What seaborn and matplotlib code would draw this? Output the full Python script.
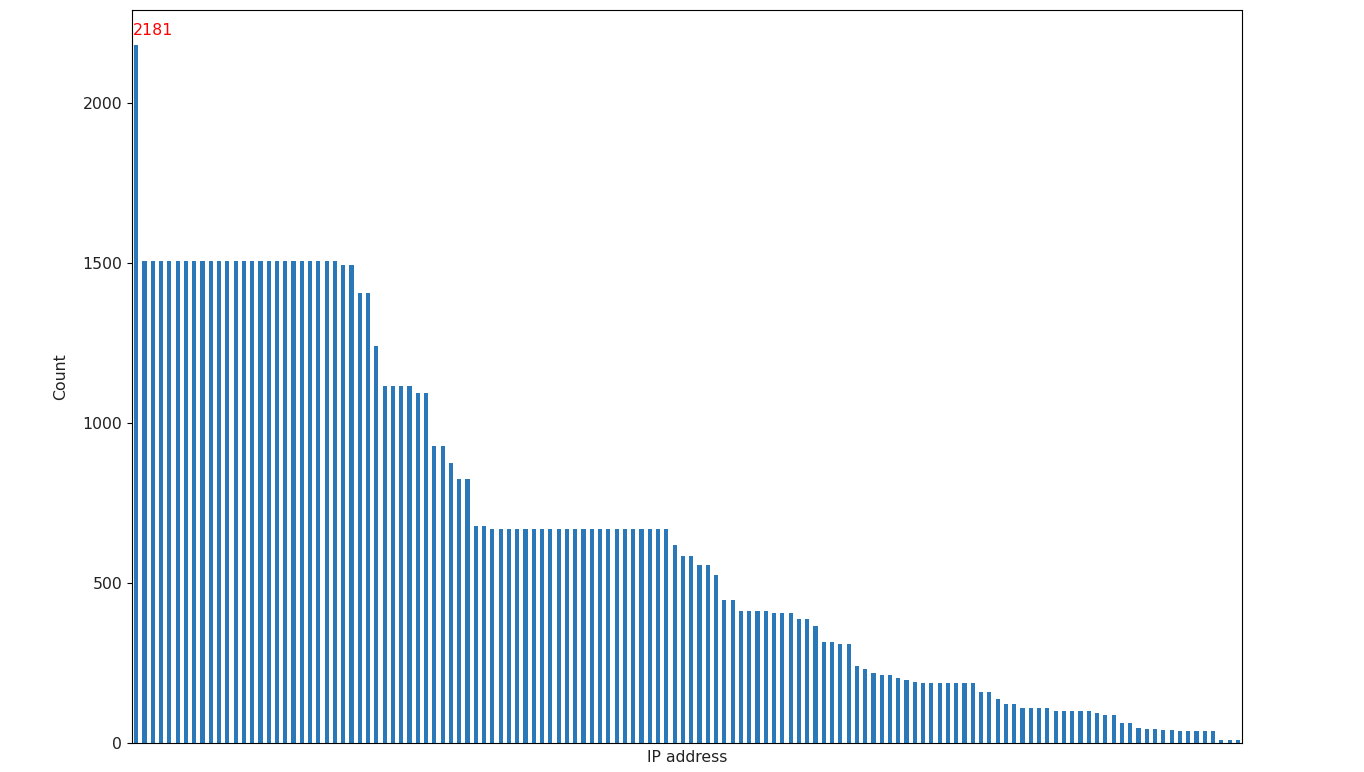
import matplotlib
matplotlib.use("Agg")
import matplotlib.pyplot as plt
import seaborn as sns

# request count per IP address, sorted descending
counts = [2181] + [1505] * 24 + [1493, 1493, 1405, 1405, 1241] + [1115] * 4 + \
    [1092, 1092, 928, 928, 874, 825, 825, 677, 677] + [670] * 22 + \
    [620, 583, 583, 557, 557, 524, 446, 446] + [412] * 4 + [407] * 3 + \
    [387, 387, 365, 316, 316, 308, 308, 241, 231, 220, 211, 211, 203, 197, 192] + \
    [187] * 7 + [158, 158, 136, 121, 121] + [110] * 4 + [100] * 5 + \
    [93, 86, 86, 61, 61, 47, 44, 43, 42, 40, 38, 37, 36, 36, 36, 10, 10, 10]
ip_labels = [f"ip_{i}" for i in range(len(counts))]

top_value = 2181
bar_color = "#2a78b8"

fig = plt.figure(figsize=(13.64, 7.72), dpi=100)
ax = fig.add_axes([0.0968, 0.0376, 0.8138, 0.9494])

sns.barplot(x=ip_labels, y=counts, color=bar_color, width=0.5,
            saturation=1, ax=ax)

ax.set_xlim(-0.5, len(counts) - 0.5)
ax.set_ylim(0, 2290)
ax.set_xticks([])
ax.set_yticks([0, 500, 1000, 1500, 2000])
ax.tick_params(axis="y", labelsize=11.3, labelcolor="#222222")
ax.set_xlabel("IP address", fontsize=11.3, color="#222222", labelpad=5)
ax.set_ylabel("Count", fontsize=11.3, color="#222222", labelpad=10)

ax.text(-0.45, top_value + 22, str(top_value), color="red",
        fontsize=11.3, ha="left", va="bottom")

fig.savefig("out.png", dpi=100)
